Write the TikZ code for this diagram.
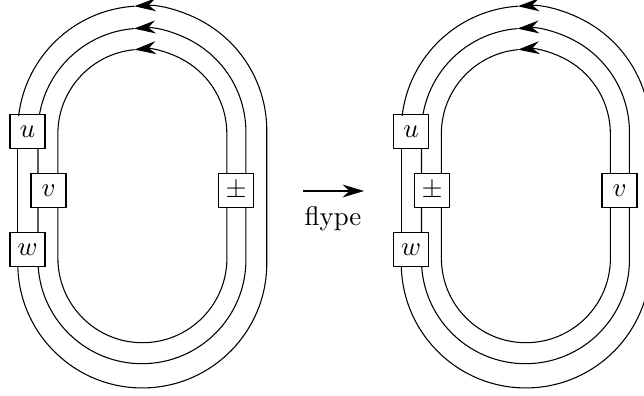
\documentclass[tikz,border=0pt]{standalone}
\usetikzlibrary{arrows.meta}
\tikzset{
  box/.style = {draw, fill=white, minimum width=13pt, minimum height=12.4pt, inner sep=0pt},
  strand/.style = {line width=0.4pt},
  tip/.style = {-{Stealth[length=8pt,width=4.8pt,inset=2.6pt]}}
}
\begin{document}
\begin{tikzpicture}[x=0.372pt, y=0.372pt]
  \useasboundingbox (0,0) rectangle (644,395);
  \foreach \pre/\dx/\lft/\rgt in {a/0/v/\pm, b/383.5/\pm/v} {
    \begin{scope}[xshift=\dx*0.372pt]
      \node[box] (\pre u) at (27.5,263.5) {$u$};
      \node[box] (\pre m) at (48.5,204.5) {$\lft$};
      \node[box] (\pre w) at (27.5,145.5) {$w$};
      \node[box] (\pre s) at (236,204.5) {$\rgt$};
      % between the boxes on the left
      \draw[strand] ([xshift=-3.7pt]\pre u.south) -- ([xshift=-3.7pt]\pre w.north);
      \draw[strand] ([xshift=3.9pt]\pre u.south) -- ([xshift=-3.9pt]\pre m.north);
      \draw[strand] ([xshift=-3.9pt]\pre m.south) -- ([xshift=3.9pt]\pre w.north);
      % inner strand
      \draw[strand, tip] ([xshift=-3.4pt]\pre s.north) -- ++(0,39.5)
        arc[start angle=0, end angle=95.4, radius=84.5] coordinate (\pre i);
      \draw[strand] (\pre i) arc[start angle=95.4, end angle=180, radius=84.5]
        -- ([xshift=3.5pt]\pre m.north);
      \draw[strand] ([xshift=3.5pt]\pre m.south) -- ++(0,-50.5)
        arc[start angle=180, end angle=360, radius=84.5] -- ([xshift=-3.4pt]\pre s.south);
      % middle strand
      \draw[strand, tip] ([xshift=3.7pt]\pre s.north) -- ++(0,41)
        arc[start angle=0, end angle=94.4, radius=104] coordinate (\pre c);
      \draw[strand] (\pre c) arc[start angle=94.4, end angle=170, radius=104]
        -- ([xshift=4.6pt]\pre u.north);
      \draw[strand] ([xshift=3.7pt]\pre s.south) -- ++(0,-52)
        arc[start angle=0, end angle=-176, radius=104] -- ([xshift=4.3pt]\pre w.south);
      % outer strand
      \draw[strand, tip] ([xshift=-3.6pt]\pre w.south)
        arc[start angle=181.5, end angle=360, radius=124.5] -- ++(0,133)
        arc[start angle=0, end angle=93.7, radius=124.5] coordinate (\pre o);
      \draw[strand] (\pre o) arc[start angle=93.7, end angle=173.3, radius=124.5]
        -- ([xshift=-3.3pt]\pre u.north);
    \end{scope}
  }
  \coordinate (from) at (303,204);
  \coordinate (to) at (364,204);
  \draw[strand, tip] (from) -- (to);
  \node (flype) at (333,176) {flype};
\end{tikzpicture}
\end{document}
